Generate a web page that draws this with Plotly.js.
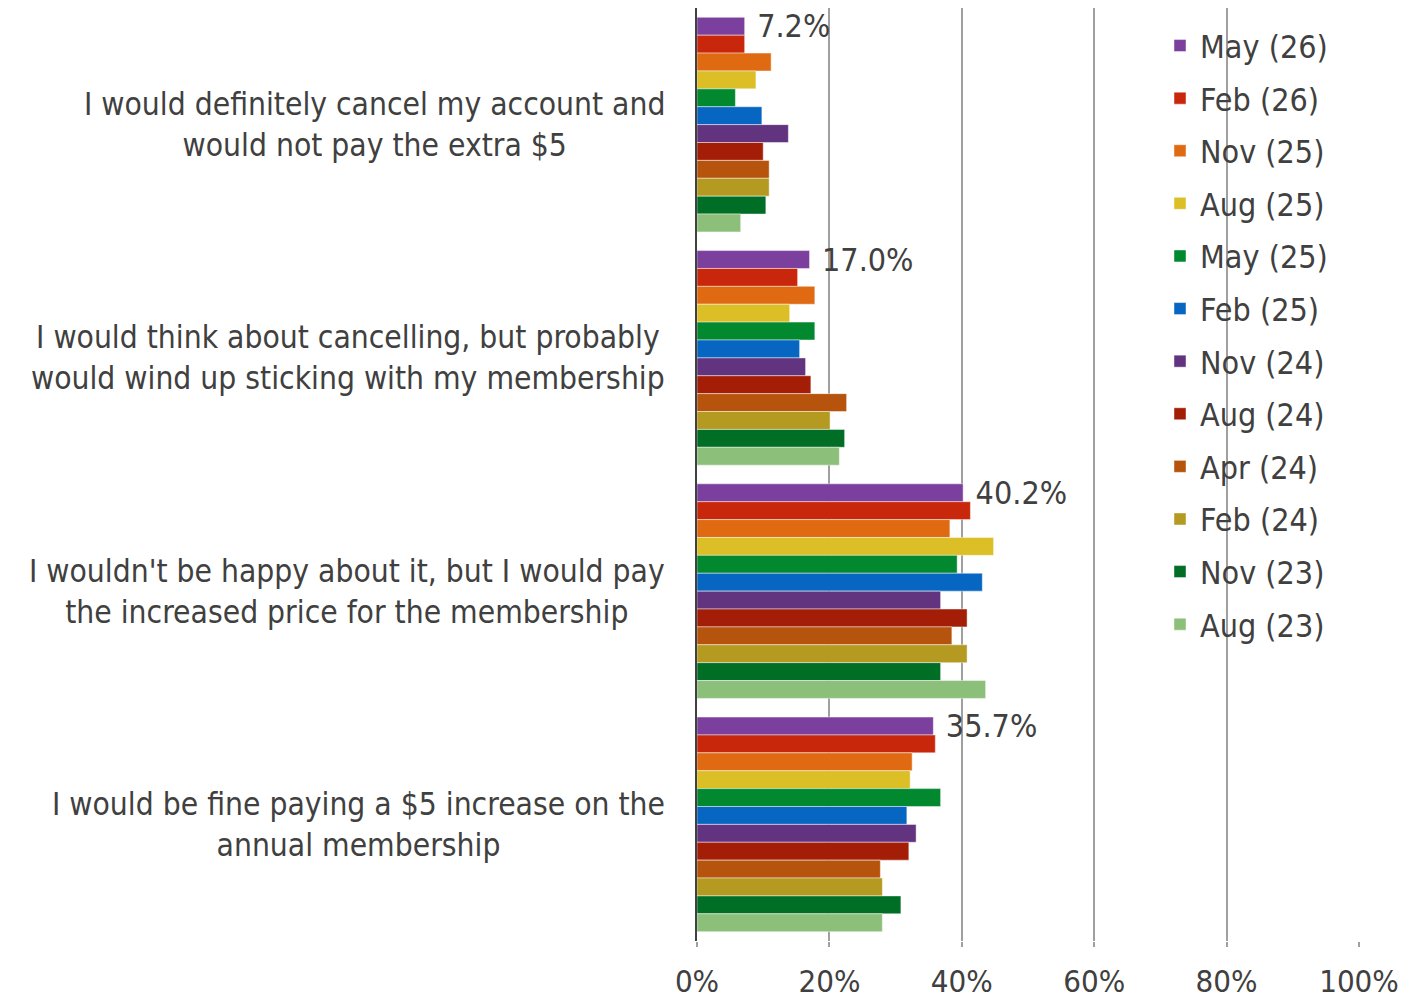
<!DOCTYPE html>
<html>
<head>
<meta charset="utf-8">
<script src="https://cdn.plot.ly/plotly-3.0.1.min.js"></script>
<style>html,body{margin:0;padding:0;background:#fff;}#chart{width:1417px;height:1002px;}</style>
</head>
<body>
<div id="chart"></div>
<script>
const categories = [
  "I would definitely cancel my account and<br>would not pay the extra $5",
  "I would think about cancelling, but probably<br>would wind up sticking with my membership",
  "I wouldn't be happy about it, but I would pay<br>the increased price for the membership",
  "I would be fine paying a $5 increase on the<br>annual membership"
];
const seriesNames = ["May (26)","Feb (26)","Nov (25)","Aug (25)","May (25)","Feb (25)","Nov (24)","Aug (24)","Apr (24)","Feb (24)","Nov (23)","Aug (23)"];
const may26 = [7.2, 17.0, 40.2, 35.7];
const feb26 = [7.2, 15.2, 41.3, 36.0];
const nov25 = [11.2, 17.8, 38.2, 32.5];
const aug25 = [8.9, 14.0, 44.8, 32.2];
const may25 = [5.8, 17.8, 39.3, 36.8];
const feb25 = [9.8, 15.5, 43.1, 31.7];
const nov24 = [13.8, 16.4, 36.8, 33.1];
const aug24 = [10.0, 17.2, 40.8, 32.0];
const apr24 = [10.9, 22.6, 38.5, 27.7];
const feb24 = [10.9, 20.1, 40.8, 28.0];
const nov23 = [10.4, 22.3, 36.8, 30.8];
const aug23 = [6.6, 21.5, 43.6, 28.0];
const seriesValues = [may26, feb26, nov25, aug25, may25, feb25, nov24, aug24, apr24, feb24, nov23, aug23];
const colors = ["#7b3f9e","#c9270b","#df6a12","#dcbe26","#02882f","#0666c2","#62337f","#a31d07","#b6540d","#b49a20","#016e25","#8cbf7a"];
const labelledSeries = 0;

const FONT = "'DejaVu Sans Condensed', 'DejaVu Sans', sans-serif";
const TXT = "#404040";

const traces = seriesNames.map((name, i) => ({
  type: 'bar',
  orientation: 'h',
  name: name,
  legendgroup: 'g' + i,
  y: categories,
  x: seriesValues[i],
  marker: {color: colors[i], line: {color: 'rgba(255,255,255,0.45)', width: 1}},
  text: i === labelledSeries ? seriesValues[i].map(v => '\u2004' + v.toFixed(1) + '%') : null,
  textposition: i === labelledSeries ? 'outside' : 'none',
  constraintext: 'none',
  cliponaxis: false,
  textfont: {family: FONT, size: 32, color: TXT},
  hoverinfo: 'x+name'
}));

const annotations = categories.map(c => ({
  xref: 'paper', yref: 'y', x: 0, y: c, xanchor: 'right', yanchor: 'middle',
  xshift: -30, align: 'center', showarrow: false, text: c,
  font: {family: FONT, size: 31.5, color: TXT}
}));

const layout = {
  width: 1417, height: 1002,
  margin: {l: 697, r: 58, t: 8, b: 61},
  paper_bgcolor: '#fff', plot_bgcolor: '#fff',
  barmode: 'group', bargap: 0.08, bargroupgap: 0,
  font: {family: FONT, size: 32, color: TXT},
  showlegend: true,
  legend: {x: 0.6994, xanchor: 'left', y: 0.989, yanchor: 'top', bgcolor: 'rgba(0,0,0,0)',
           traceorder: 'grouped', tracegroupgap: 8, font: {family: FONT, size: 32, color: TXT}},
  xaxis: {range: [0, 100], dtick: 20, tick0: 0, ticksuffix: '%', showgrid: true,
          gridcolor: '#a0a0a0', gridwidth: 2, zeroline: false, ticks: 'outside', ticklen: 5,
          tickcolor: '#a0a0a0', tickwidth: 2, ticklabelstandoff: 8,
          tickfont: {family: FONT, size: 31, color: TXT}, fixedrange: true},
  yaxis: {autorange: 'reversed', showticklabels: false, showgrid: false, zeroline: false,
          showline: true, linecolor: '#404040', linewidth: 2, ticks: '', fixedrange: true},
  annotations: annotations
};

Plotly.newPlot('chart', traces, layout, {displayModeBar: false, staticPlot: true});
</script>
</body>
</html>
